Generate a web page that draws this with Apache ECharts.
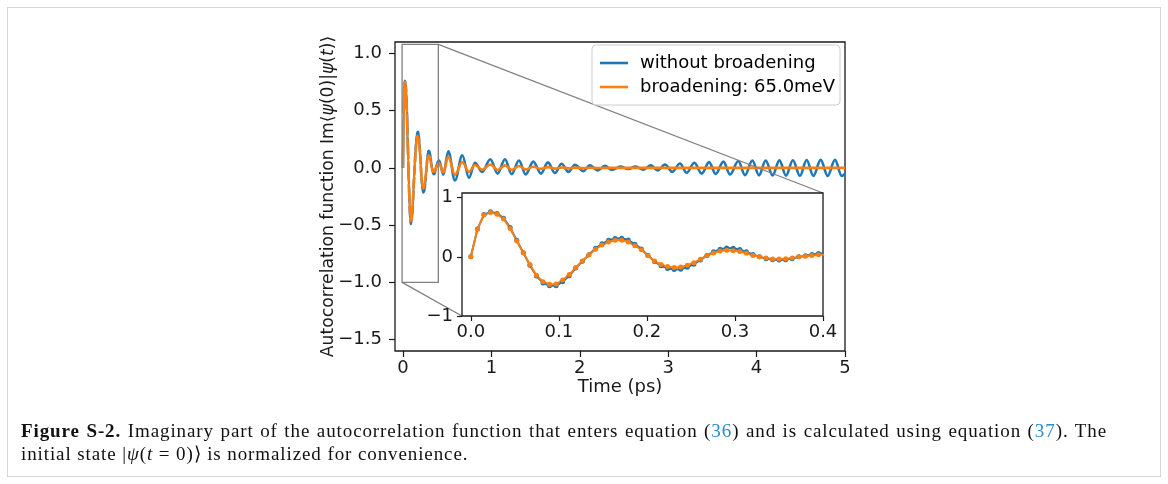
<!DOCTYPE html>
<html>
<head>
<meta charset="utf-8">
<script src="https://cdn.jsdelivr.net/npm/echarts@6/dist/echarts.min.js"></script>
<style>
html,body{margin:0;padding:0;background:#fff;}
#wrap{position:relative;width:1168px;height:484px;overflow:hidden;background:#fff;}
#chart{position:absolute;left:0;top:0;width:1168px;height:484px;}
#frame{position:absolute;left:7px;top:7px;width:1152px;height:468px;border:1px solid #d6d6d6;pointer-events:none;}
#caption{position:absolute;left:21px;top:419px;width:1086px;font-family:'Liberation Serif',serif;font-size:19px;letter-spacing:0.9px;line-height:23px;color:#111;}
#caption .l1{display:block;text-align:justify;text-align-last:justify;}
#caption .l2{display:block;}
#caption .ref{color:#2a8bc8;}
#caption i{font-style:italic;}
</style>
</head>
<body>
<div id="wrap">
  <div id="chart"></div>
  <div id="frame"></div>
  <div id="caption">
    <span class="l1"><b>Figure S-2.</b> Imaginary part of the autocorrelation function that enters equation (<span class="ref">36</span>) and is calculated using equation (<span class="ref">37</span>). The</span>
    <span class="l2">initial state |<i>ψ</i>(<i>t</i> = 0)⟩ is normalized for convenience.</span>
  </div>
</div>
<script>
// ---------- data ----------
// finely sampled part (visible as markers in the inset), time in ps
const T_FINE = [0, 0.0075, 0.0149, 0.0224, 0.0298, 0.0373, 0.0447, 0.0522, 0.0596, 0.0671,
  0.0745, 0.0820, 0.0894, 0.0969, 0.1043, 0.1118, 0.1192, 0.1267, 0.1341, 0.1416,
  0.1490, 0.1565, 0.1639, 0.1714, 0.1788, 0.1863, 0.1937, 0.2012, 0.2086, 0.2161,
  0.2235, 0.2310, 0.2384, 0.2459, 0.2533, 0.2608, 0.2682, 0.2757, 0.2831, 0.2906,
  0.2980, 0.3055, 0.3129, 0.3204, 0.3278, 0.3353, 0.3427, 0.3502, 0.3576, 0.3651,
  0.3725, 0.3800, 0.3874, 0.3949];
const BLUE_FINE = [0, 0.47, 0.715, 0.762, 0.735, 0.655, 0.495, 0.28, 0.07, -0.14,
  -0.325, -0.44, -0.49, -0.49, -0.42, -0.32, -0.19, -0.075, 0.035, 0.145,
  0.22, 0.28, 0.31, 0.315, 0.285, 0.215, 0.135, 0.025, -0.08, -0.15,
  -0.195, -0.215, -0.21, -0.175, -0.125, -0.055, 0.025, 0.085, 0.13, 0.15,
  0.145, 0.125, 0.085, 0.04, 0.0, -0.03, -0.05, -0.055, -0.05, -0.03,
  0.0, 0.02, 0.04, 0.055];
const ORANGE_FINE = [0, 0.465, 0.707, 0.752, 0.72, 0.64, 0.48, 0.27, 0.07, -0.13,
  -0.31, -0.42, -0.465, -0.46, -0.39, -0.30, -0.18, -0.07, 0.03, 0.13,
  0.20, 0.25, 0.28, 0.28, 0.25, 0.19, 0.12, 0.02, -0.07, -0.13,
  -0.165, -0.18, -0.17, -0.14, -0.10, -0.04, 0.02, 0.065, 0.10, 0.11,
  0.105, 0.09, 0.06, 0.025, 0.0, -0.02, -0.035, -0.035, -0.03, -0.02,
  0.0, 0.01, 0.025, 0.035];
// later part: extrema of the oscillation
const T_COARSE = [0.410, 0.456, 0.513, 0.588, 0.671, 0.747, 0.814, 0.897, 0.988, 1.071,
  1.154, 1.229, 1.312, 1.388, 1.474, 1.561, 1.640, 1.719, 1.795, 1.871,
  1.946, 2.040, 2.115, 2.202, 2.285, 2.360, 2.460, 2.549, 2.632, 2.719,
  2.805, 2.881, 2.964, 3.047, 3.133, 3.209, 3.296, 3.379, 3.462, 3.537,
  3.625, 3.700, 3.793, 3.869, 3.952, 4.027, 4.103, 4.181, 4.258, 4.333,
  4.410, 4.491, 4.566, 4.642, 4.725, 4.804, 4.887, 4.962, 5.000];
const BLUE_COARSE = [0.065, -0.060, 0.145, -0.110, 0.110, -0.087, 0.045, -0.035, 0.075, -0.050,
  0.075, -0.055, 0.065, -0.058, 0.055, -0.050, 0.048, -0.045, 0.036, -0.035,
  0.028, -0.028, 0.022, -0.022, 0.018, -0.018, 0.011, -0.010, 0.012, -0.015,
  0.022, -0.023, 0.029, -0.034, 0.038, -0.043, 0.045, -0.050, 0.050, -0.053,
  0.055, -0.058, 0.060, -0.063, 0.064, -0.065, 0.065, -0.066, 0.066, -0.068,
  0.067, -0.069, 0.069, -0.070, 0.070, -0.070, 0.070, -0.070, -0.050];
const ORANGE_COARSE = [0.040, -0.040, 0.100, -0.060, 0.050, -0.035, 0.025, -0.015, 0.030, -0.018,
  0.022, -0.017, 0.016, -0.014, 0.010, -0.009, 0.007, -0.006, 0.004, -0.004,
  0.002, -0.002, 0.001, -0.001, 0, 0, 0, 0, 0, 0,
  0, 0, 0, 0, 0, 0, 0, 0, 0, 0,
  0, 0, 0, 0, 0, 0, 0, 0, 0, 0,
  0, 0, 0, 0, 0, 0, 0, 0, 0];

const SERIES_NAMES = ['without broadening', 'broadening: 65.0meV'];
const X_TICKS = [0, 1, 2, 3, 4, 5];
const Y_TICKS = [-1.5, -1.0, -0.5, 0.0, 0.5, 1.0];
const INSET_X_TICKS = [0.0, 0.1, 0.2, 0.3, 0.4];
const INSET_Y_TICKS = [-1, 0, 1];
const MAIN_XLIM = [-0.09, 5];
const MAIN_YLIM = [-1.6, 1.1];
const INSET_XLIM = [-0.01, 0.4];
const INSET_YLIM = [-1, 1.08];

// ---------- build ----------
const TIME = T_FINE.concat(T_COARSE);
const BLUE = BLUE_FINE.concat(BLUE_COARSE);
const ORANGE = ORANGE_FINE.concat(ORANGE_COARSE);
const pairs = (xs, ys) => xs.map((x, i) => [x, ys[i]]);

const BLUE_C = '#1f77b4', ORANGE_C = '#ff7f0e', INK = '#1a1a1a';
const FONT = 'DejaVu Sans';
const minus = s => String(s).replace('-', '\u2212');

const tickStyle = (len) => ({show: true, inside: false, length: len, lineStyle: {color: INK, width: 1.2}});
const labelStyle = {color: INK, fontFamily: FONT, fontSize: 18};
const hiddenLine = {show: false, onZero: false};

const option = {
  animation: false,
  backgroundColor: 'transparent',
  textStyle: {fontFamily: FONT},
  grid: [
    {left: 395, top: 42, width: 450, height: 309, show: true, backgroundColor: 'transparent',
     borderColor: INK, borderWidth: 1.3, z: 0},
    {left: 462, top: 193, width: 361, height: 123, show: true, backgroundColor: '#ffffff',
     borderColor: INK, borderWidth: 1.3, z: 3}
  ],
  xAxis: [
    {type: 'value', gridIndex: 0, position: 'bottom', min: MAIN_XLIM[0], max: MAIN_XLIM[1],
     axisLine: hiddenLine, splitLine: {show: false},
     axisTick: Object.assign(tickStyle(6), {customValues: X_TICKS}),
     axisLabel: Object.assign({}, labelStyle, {customValues: X_TICKS, margin: 8, formatter: v => String(v)}),
     name: 'Time (ps)', nameLocation: 'middle', nameGap: 27, nameMoveOverlap: false,
     nameTextStyle: {color: INK, fontFamily: FONT, fontSize: 18}},
    {type: 'value', gridIndex: 1, position: 'bottom', min: INSET_XLIM[0], max: INSET_XLIM[1], z: 5,
     axisLine: hiddenLine, splitLine: {show: false},
     axisTick: Object.assign(tickStyle(5), {customValues: INSET_X_TICKS}),
     axisLabel: Object.assign({}, labelStyle, {customValues: INSET_X_TICKS, margin: 7, formatter: v => v.toFixed(1)})}
  ],
  yAxis: [
    {type: 'value', gridIndex: 0, position: 'left', min: MAIN_YLIM[0], max: MAIN_YLIM[1],
     axisLine: hiddenLine, splitLine: {show: false},
     axisTick: Object.assign(tickStyle(6), {customValues: Y_TICKS}),
     axisLabel: Object.assign({}, labelStyle, {customValues: Y_TICKS, margin: 13, formatter: v => minus(v.toFixed(1))}),
     name: 'Autocorrelation function Im\u27E8{i|\u03C8}(0)|{i|\u03C8}({i|t})\u27E9',
     nameLocation: 'middle', nameGap: 58, nameMoveOverlap: false,
     nameTextStyle: {color: INK, fontFamily: FONT, fontSize: 17.2,
       rich: {i: {fontStyle: 'italic', fontFamily: FONT, fontSize: 17.2, color: INK}}}},
    {type: 'value', gridIndex: 1, position: 'left', min: INSET_YLIM[0], max: INSET_YLIM[1], z: 5,
     axisLine: hiddenLine, splitLine: {show: false},
     axisTick: Object.assign(tickStyle(5), {customValues: INSET_Y_TICKS}),
     axisLabel: Object.assign({}, labelStyle, {customValues: INSET_Y_TICKS, margin: 9, formatter: v => minus(Math.round(v))})}
  ],
  legend: {
    left: 592, top: 45, orient: 'vertical', padding: [9, 5, 9, 8], itemGap: 6,
    itemWidth: 28, itemHeight: 2.6,
    backgroundColor: 'rgba(255,255,255,0.8)', borderColor: '#cccccc', borderWidth: 1, borderRadius: 4,
    textStyle: {color: '#000', fontFamily: FONT, fontSize: 18, padding: [0, 0, 0, 7]},
    data: [{name: SERIES_NAMES[0], icon: 'rect'}, {name: SERIES_NAMES[1], icon: 'rect'}],
    selectedMode: false, z: 6
  },
  series: [
    {type: 'line', name: SERIES_NAMES[0], xAxisIndex: 0, yAxisIndex: 0, data: pairs(TIME, BLUE),
     symbol: 'none', showSymbol: false, smooth: 0.35, smoothMonotone: 'x',
     itemStyle: {color: BLUE_C}, lineStyle: {color: BLUE_C, width: 2.6}, z: 1},
    {type: 'line', name: SERIES_NAMES[1], xAxisIndex: 0, yAxisIndex: 0, data: pairs(TIME, ORANGE),
     symbol: 'none', showSymbol: false, smooth: 0.35, smoothMonotone: 'x',
     itemStyle: {color: ORANGE_C}, lineStyle: {color: ORANGE_C, width: 2.6}, z: 1},
    {type: 'line', name: SERIES_NAMES[0], xAxisIndex: 1, yAxisIndex: 1, data: pairs(TIME, BLUE),
     symbol: 'circle', symbolSize: 5, showSymbol: true, clip: true,
     itemStyle: {color: BLUE_C}, lineStyle: {color: BLUE_C, width: 2}, z: 4},
    {type: 'line', name: SERIES_NAMES[1], xAxisIndex: 1, yAxisIndex: 1, data: pairs(TIME, ORANGE),
     symbol: 'circle', symbolSize: 5, showSymbol: true, clip: true,
     itemStyle: {color: ORANGE_C}, lineStyle: {color: ORANGE_C, width: 2}, z: 4}
  ]
};

const chart = echarts.init(document.getElementById('chart'), null, {renderer: 'canvas'});
chart.setOption(option);

// zoom-indicator box and connectors, positioned through the axes' own scales
const tl = chart.convertToPixel({gridIndex: 0}, [INSET_XLIM[0], INSET_YLIM[1]]);
const br = chart.convertToPixel({gridIndex: 0}, [INSET_XLIM[1], INSET_YLIM[0]]);
const itr = chart.convertToPixel({gridIndex: 1}, [INSET_XLIM[1], INSET_YLIM[1]]);
const ibl = chart.convertToPixel({gridIndex: 1}, [INSET_XLIM[0], INSET_YLIM[0]]);
const GRAY = '#808080';
chart.setOption({
  graphic: [
    {type: 'rect', z: 2, silent: true,
     shape: {x: tl[0], y: tl[1], width: br[0] - tl[0], height: br[1] - tl[1]},
     style: {fill: null, stroke: GRAY, lineWidth: 1.3}},
    {type: 'line', z: 2, silent: true,
     shape: {x1: br[0], y1: tl[1], x2: itr[0], y2: itr[1]},
     style: {stroke: GRAY, lineWidth: 1.3}},
    {type: 'line', z: 2, silent: true,
     shape: {x1: tl[0], y1: br[1], x2: ibl[0], y2: ibl[1]},
     style: {stroke: GRAY, lineWidth: 1.3}}
  ]
});
</script>
</body>
</html>
